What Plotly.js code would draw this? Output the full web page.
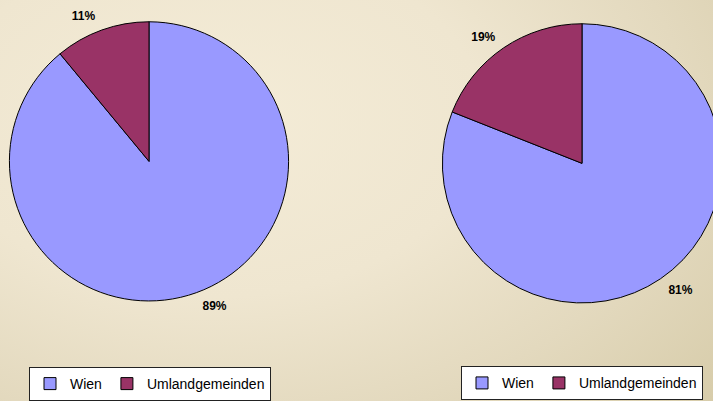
<!DOCTYPE html>
<html>
<head>
<meta charset="utf-8">
<script src="https://cdn.plot.ly/plotly-3.0.1.min.js"></script>
<style>
html,body{margin:0;padding:0;overflow:hidden;width:713px;height:401px;}
body{background:radial-gradient(ellipse 95% 110% at 30% 30%, #f4ecd7 0%, #efe6d0 40%, #e3d9be 70%, #d6cba8 100%);}
#chart{width:735px;height:401px;}
</style>
</head>
<body>
<div id="chart"></div>
<script>
var categories = ["Wien", "Umlandgemeinden"];
var valuesLeft = [89, 11];
var valuesRight = [81, 19];
var colors = ["#9999ff", "#993366"];

var W = 735, H = 401;
function dom(cx, cy, r) {
  return {x: [(cx - r) / W, (cx + r) / W], y: [1 - (cy + r) / H, 1 - (cy - r) / H]};
}
var base = {
  type: "pie",
  labels: categories,
  sort: false,
  direction: "clockwise",
  rotation: 0
};
function piePair(values, cx, cy, legendId, group) {
  var visiblePie = Object.assign({}, base, {
    values: values,
    domain: dom(cx, cy, 141),
    marker: {colors: colors, line: {color: "#000000", width: 1}},
    textinfo: "none",
    hoverinfo: "label+percent",
    legend: legendId, legendgroup: group
  });
  // transparent, slightly larger pie carrying the percentage labels a bit further out
  var labelPie = Object.assign({}, base, {
    values: values,
    domain: dom(cx, cy, 149),
    marker: {colors: ["rgba(0,0,0,0)", "rgba(0,0,0,0)"], line: {width: 0}},
    textposition: "outside",
    texttemplate: "%{percent:.0%}",
    textfont: {family: "Liberation Sans, Arial, sans-serif", size: 12, color: "#000000", weight: "bold"},
    hoverinfo: "skip",
    showlegend: false,
    legend: legendId, legendgroup: group
  });
  return [visiblePie, labelPie];
}
var traces = piePair(valuesLeft, 149, 163, "legend", "left").concat(piePair(valuesRight, 582, 165, "legend2", "right"));

var legendStyle = {
  orientation: "h",
  traceorder: "normal",
  bgcolor: "#ffffff",
  bordercolor: "#222222",
  borderwidth: 1,
  font: {family: "Liberation Sans, Arial, sans-serif", size: 14, color: "#000000"},
  xanchor: "left", yanchor: "top",
  itemwidth: 30,
  tracegroupgap: 0
};
var layout = {
  width: W, height: H,
  margin: {l: 0, r: 0, t: 0, b: 0},
  paper_bgcolor: "rgba(0,0,0,0)",
  plot_bgcolor: "rgba(0,0,0,0)",
  showlegend: true,
  legend: Object.assign({}, legendStyle, {x: 29 / W, y: 1 - 371 / H}),
  legend2: Object.assign({}, legendStyle, {x: 461 / W, y: 1 - 370 / H})
};
Plotly.newPlot("chart", traces, layout, {displayModeBar: false, staticPlot: true});
</script>
</body>
</html>
